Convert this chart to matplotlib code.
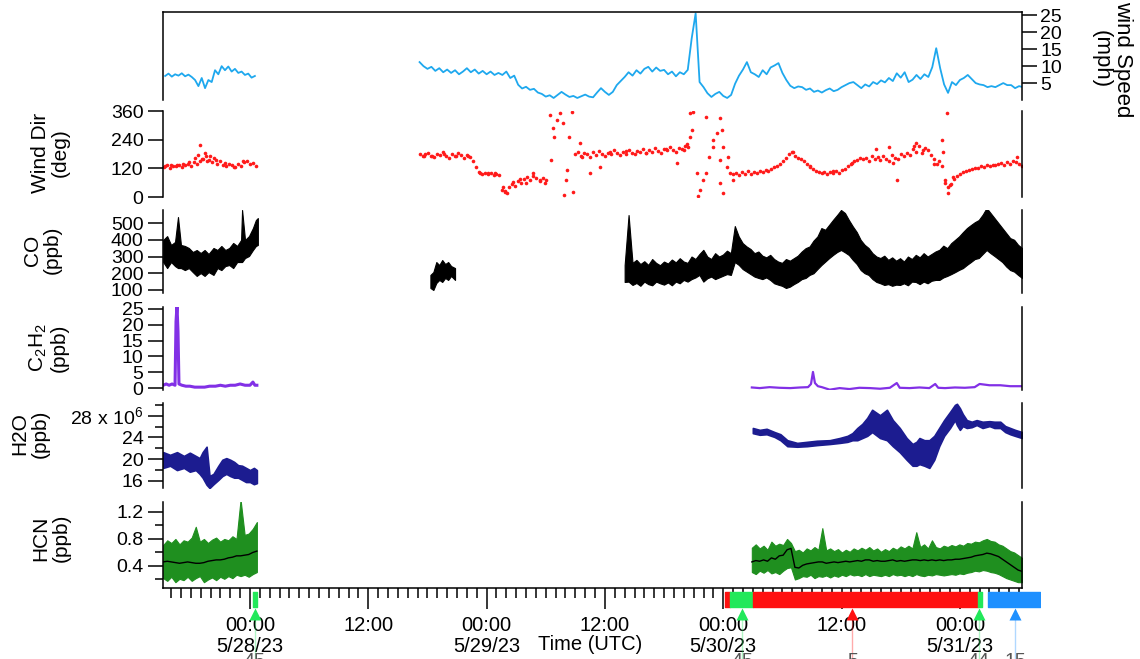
import datetime as dt

import matplotlib.pyplot as plt
import numpy as np
from matplotlib.ticker import FixedLocator, FuncFormatter

plt.rcParams['font.family'] = ['Liberation Sans', 'DejaVu Sans']
plt.rcParams['mathtext.fontset'] = 'custom'
plt.rcParams['mathtext.rm'] = 'Liberation Sans'
plt.rcParams['font.size'] = 14

# time axis: hours after 2023-05-28 00:00 UTC
T0 = dt.datetime(2023, 5, 28)

# wind speed (mph), evenly sampled between the start and end hours
ws_span1 = (-8.6, 0.5)
ws_v1 = [7.1, 7.8, 6.9, 7.6, 7.2, 7.9, 7.0, 7.5, 6.8, 5.9, 4.1, 6.5, 3.5, 5.9, 5.3, 8.8,
         7.6, 10.0, 8.8, 9.9, 8.4, 9.2, 8.0, 8.4, 7.4, 7.8, 6.6, 7.1]
ws_span2 = (17.2, 78.4)
ws_v2 = [11.2, 10.0, 9.2, 9.8, 8.6, 9.4, 8.2, 9.0, 8.0, 8.8,
         7.6, 8.4, 9.4, 8.2, 9.0, 7.8, 8.6, 7.6, 8.4, 7.4,
         8.0, 7.4, 8.4, 6.5, 7.2, 4.5, 3.4, 3.9, 3.0, 3.3,
         2.2, 1.8, 1.0, 1.4, 0.6, 1.5, 2.4, 1.6, 0.9, 1.2,
         0.6, 1.1, 1.6, 1.0, 0.8, 2.2, 3.5, 2.4, 1.5, 2.4,
         4.4, 5.6, 6.8, 8.2, 7.2, 8.8, 7.8, 9.2, 9.8, 8.4,
         9.6, 8.6, 8.9, 7.6, 8.4, 7.0, 8.2, 7.6, 8.9, 18.2,
         25.6, 5.3, 3.8, 2.0, 0.9, 1.8, 2.4, 1.2, 0.6, 1.5,
         4.8, 7.2, 9.0, 11.2, 8.2, 7.6, 6.8, 8.8, 7.6, 9.6,
         10.2, 10.9, 8.0, 5.9, 4.2, 3.5, 4.0, 3.8, 3.0, 3.4,
         2.4, 2.8, 2.2, 2.9, 3.4, 2.6, 3.0, 3.8, 4.4, 5.0,
         5.3, 4.4, 3.5, 4.6, 4.0, 5.3, 4.7, 5.8, 5.2, 6.5,
         5.6, 7.9, 6.6, 8.2, 5.3, 6.0, 7.4, 6.2, 7.6, 6.8,
         9.7, 15.3, 9.4, 4.6, 2.1, 5.3, 4.4, 5.9, 6.5, 7.4,
         6.2, 5.0, 4.6, 4.4, 3.8, 4.1, 3.8, 4.4, 5.0, 4.4,
         4.4, 3.5, 4.1, 3.8]

# wind direction (deg): evenly sampled stretches ...
wd_spans = [(-8.7, 0.6), (17.2, 25.3), (25.6, 30.0), (33.0, 44.4), (49.0, 78.3)]
wd_runs = [
    [125, 132, 122, 130, 128, 136, 124, 133, 140, 130, 145, 138, 150, 160, 172, 155,
     148, 165, 140, 152, 135, 128, 140, 132, 126, 138, 130, 145, 150, 138, 142, 130],
    [182, 170, 178, 186, 172, 168, 180, 175, 188, 172, 165, 178, 170, 184, 176, 162,
     174, 168, 150, 125, 105, 98, 102, 96, 100, 94, 98, 92],
    [30, 22, 40, 55, 48, 65, 60, 75, 82, 70, 88, 78, 65, 80, 72],
    [178, 190, 172, 185, 180, 168, 188, 176, 192, 182, 170, 186, 178, 195, 184, 175,
     190, 182, 198, 186, 180, 194, 188, 200, 185, 196, 190, 205, 192, 186, 200, 195,
     210, 198, 190, 205, 200, 215, 208],
    [95, 102, 92, 105, 98, 108, 96, 104, 100, 110,
     104, 112, 108, 118, 125, 130, 140, 150, 165, 178,
     188, 172, 165, 160, 150, 140, 128, 118, 110, 105,
     100, 106, 98, 104, 100, 108, 102, 112, 118, 128,
     140, 150, 155, 162, 158, 165, 150, 170, 160, 168,
     155, 172, 160, 150, 175, 165, 158, 180, 170, 185,
     175, 200, 190, 215, 185, 205, 195, 175, 160, 140,
     150, 130, 60, 40, 55, 75, 88, 95, 105, 110,
     115, 118, 122, 120, 128, 125, 132, 130, 136, 132,
     138, 142, 135, 148, 140, 152, 145, 138, 130],
]
# ... plus the individual readings, including the scattered ones
wd_t = [-8.6, -8.0, -7.4, -6.8, -6.2, -5.6, -5.3, -5.1, -4.9, -4.6, -4.4, -4.1, -3.4, -2.5, -1.6, -0.7,
        17.6, 18.5, 19.7, 20.9, 22.1, 23.3, 24.1, 24.9, 25.7, 25.9, 26.1, 26.7, 27.4, 28.0, 28.7,
        29.4, 29.9, 30.4, 30.5, 30.7, 30.8, 31.1, 31.4, 31.7, 31.9, 32.1, 32.2, 32.4, 32.7, 32.8,
        33.5, 33.7, 34.5, 35.5, 36.5, 38.1, 40.2, 42.2, 43.3, 44.0, 44.3, 44.6, 44.6, 44.8, 44.9,
        45.3, 45.4, 45.6, 45.9, 46.3, 46.3, 46.6, 47.0, 47.0, 47.4, 47.7, 47.7, 47.7, 47.9, 48.0,
        48.0, 48.4, 48.5, 48.7, 49.0, 55.1, 56.8, 59.1, 61.1, 63.5, 64.8, 65.2, 65.6, 67.3, 67.6,
        68.3, 69.4, 70.2, 70.3, 70.5, 70.7, 70.8, 71.0, 71.3, 77.8]
wd_deg = [128, 132, 135, 140, 145, 165, 175, 218, 160, 185, 150, 170, 155, 142, 125, 150,
          170, 172, 182, 170, 172, 100, 102, 100, 40, 25, 15, 63, 75, 60, 100,
          71, 59, 343, 155, 289, 251, 322, 352, 310, 8, 71, 113, 251, 356, 21,
          226, 167, 100, 126, 190, 192, 185, 200, 142, 198, 220, 352, 251, 280, 356,
          100, 5, 29, 71, 100, 335, 167, 209, 239, 268, 331, 155, 59, 280, 209,
          17, 126, 167, 100, 71, 188, 126, 108, 142, 200, 209, 142, 71, 215, 226,
          197, 140, 239, 188, 71, 352, 17, 50, 84, 167]

# CO (ppb): low / high envelope of the fast trace
co_t1 = [-8.8, -8.4, -8.0, -7.6, -7.3, -7.0, -6.6, -6.2, -5.8, -5.4, -5.0, -4.6, -4.2, -3.7,
         -3.3, -2.9, -2.5, -2.1, -1.7, -1.3, -0.9, -0.8, -0.5, -0.1, 0.3, 0.6, 0.8]
co_hi1 = [399, 422, 369, 387, 536, 369, 363, 351, 327, 339, 321, 339, 315, 351,
          339, 363, 339, 351, 381, 363, 399, 578, 399, 422, 470, 518, 530]
co_lo1 = [267, 231, 267, 243, 231, 231, 219, 231, 207, 184, 201, 184, 207, 190,
          231, 219, 243, 249, 231, 267, 267, 267, 291, 303, 339, 363, 369]
co_t2 = [18.3, 18.6, 18.9, 19.2, 19.5, 19.8, 20.1, 20.4, 20.8]
co_hi2 = [190, 207, 267, 249, 279, 255, 267, 243, 231]
co_lo2 = [112, 100, 142, 160, 148, 172, 160, 184, 160]
co_span3 = (38.0, 78.3)
co_hi3 = [249, 548, 262, 280, 255, 272, 250, 285, 262, 248,
          270, 258, 282, 265, 290, 270, 262, 300, 285, 315,
          340, 300, 285, 320, 300, 312, 335, 320, 482, 420,
          380, 360, 345, 320, 330, 305, 295, 310, 285, 270,
          262, 285, 275, 290, 305, 330, 350, 360, 395, 420,
          470, 460, 490, 520, 548, 578, 560, 518, 480, 446,
          399, 370, 351, 320, 300, 291, 305, 280, 295, 275,
          290, 270, 300, 285, 310, 295, 320, 300, 315, 330,
          340, 365, 350, 380, 400, 420, 446, 470, 488, 505,
          518, 550, 590, 560, 530, 500, 470, 440, 410, 400,
          370, 351]
co_lo3 = [148, 150, 130, 142, 125, 150, 135, 128, 150, 140,
          132, 145, 128, 150, 140, 160, 150, 165, 175, 190,
          150, 170, 180, 165, 175, 185, 195, 190, 267, 250,
          225, 210, 195, 180, 172, 165, 175, 160, 140, 132,
          125, 112, 120, 135, 148, 165, 172, 190, 200, 225,
          249, 270, 291, 310, 327, 339, 325, 309, 280, 255,
          219, 200, 190, 165, 148, 140, 130, 135, 125, 132,
          130, 140, 128, 150, 148, 135, 150, 140, 155, 160,
          160, 175, 184, 195, 207, 220, 231, 250, 267, 285,
          291, 315, 339, 320, 303, 285, 267, 240, 219, 210,
          190, 172]

# C2H2 (ppb)
c2_t1 = [-8.8, -8.5, -8.2, -7.9, -7.6, -7.5, -7.4, -7.3, -7.2, -6.9, -6.5, -6.1, -5.6, -5.1,
         -4.6, -4.1, -3.5, -3.0, -2.5, -2.0, -1.5, -1.0, -0.5, 0.0, 0.3, 0.5, 0.7]
c2_v1 = [0.9, 1.3, 0.9, 1.3, 0.9, 21.0, 26.0, 18.0, 1.3, 0.9, 0.6, 0.6, 0.3, 0.3,
         0.3, 0.6, 0.6, 0.9, 0.6, 0.9, 0.9, 1.3, 0.9, 0.9, 1.9, 0.9, 0.9]
c2_t2 = [50.9, 51.7, 52.7, 53.7, 54.8, 55.8, 56.6, 56.9, 57.1, 57.3, 57.6, 58.0, 58.8, 59.8,
         60.8, 61.8, 62.9, 63.9, 64.9, 65.6, 65.9, 66.9, 67.9, 68.9, 69.5, 69.8, 70.5, 71.5,
         72.5, 73.5, 74.0, 75.0, 76.1, 77.1, 78.3]
c2_v2 = [0.2, 0.0, 0.3, 0.1, 0.0, 0.2, 0.3, 1.3, 5.1, 1.6, 0.6, 0.3, -0.5, 0.0,
         -0.3, 0.1, 0.0, -0.2, 0.1, 1.6, 0.1, 0.0, 0.2, 0.0, 1.3, 0.1, 0.0, 0.2,
         0.1, 0.3, 1.3, 0.9, 0.9, 0.6, 0.6]

# H2O (10^6 ppb)
h2o_t1 = [-8.8, -8.1, -7.4, -6.7, -6.1, -5.5, -5.1, -4.8, -4.4, -4.1, -3.7, -3.2, -2.8, -2.4,
          -2.0, -1.6, -1.2, -0.8, -0.4, 0.0, 0.4, 0.7]
h2o_hi1 = [21.3, 20.8, 21.3, 20.6, 21.2, 20.6, 20.2, 21.3, 22.3, 16.9, 17.3, 18.8, 19.9, 20.2,
           19.9, 19.5, 18.9, 18.8, 18.4, 18.0, 18.4, 18.0]
h2o_lo1 = [18.4, 18.8, 18.0, 18.4, 17.7, 18.0, 17.3, 16.6, 15.3, 14.7, 15.4, 16.2, 16.9, 17.3,
           16.9, 16.6, 16.6, 16.2, 15.8, 15.8, 15.4, 15.6]
h2o_t2 = [51.0, 51.7, 52.4, 53.2, 53.8, 54.5, 55.5, 56.5, 57.5, 58.8, 59.8, 60.6, 61.1, 61.6,
          62.1, 62.6, 63.1, 63.9, 64.6, 65.2, 65.9, 66.6, 67.2, 67.6, 67.9, 68.4, 68.9, 69.4,
          69.9, 70.4, 71.0, 71.5, 71.7, 72.0, 72.3, 72.7, 73.2, 73.7, 74.3, 75.0, 75.5, 76.1,
          76.6, 77.1, 77.6, 78.3]
h2o_hi2 = [25.75, 25.4, 25.6, 25.0, 24.6, 23.5, 23.0, 23.2, 23.4, 23.5, 23.9, 24.3, 24.8, 25.75,
           26.5, 27.6, 29.1, 28.1, 29.1, 27.2, 25.75, 23.9, 22.8, 23.2, 23.9, 23.5, 23.5, 24.3,
           25.75, 27.2, 28.7, 30.0, 30.2, 29.4, 28.3, 27.2, 26.9, 27.2, 26.9, 27.0, 26.9, 26.9,
           26.1, 25.75, 25.4, 25.0]
h2o_lo2 = [24.8, 24.5, 24.6, 24.1, 23.5, 22.4, 22.3, 22.4, 22.6, 22.8, 23.0, 23.2, 23.5, 23.5,
           23.9, 24.3, 25.0, 23.9, 23.5, 22.4, 21.3, 19.9, 18.8, 18.8, 19.1, 18.8, 18.4, 19.9,
           22.4, 24.3, 25.75, 27.2, 26.3, 25.4, 26.1, 25.75, 25.9, 26.3, 25.75, 26.1, 25.75, 25.75,
           25.0, 24.6, 24.3, 23.9]

# HCN (ppb): spread of the fast data and its running mean
hcn_span1 = (-8.8, 0.7)
hcn_hi1 = [0.71, 0.78, 0.74, 0.80, 0.72, 0.78, 0.76, 0.82, 0.98, 0.76, 0.80, 0.74, 0.79, 0.82,
           0.76, 0.80, 0.78, 0.84, 0.80, 1.38, 0.86, 0.88, 0.95, 1.05]
hcn_lo1 = [0.22, 0.18, 0.24, 0.16, 0.21, 0.19, 0.24, 0.18, 0.22, 0.25, 0.16, 0.20, 0.23, 0.19,
           0.24, 0.21, 0.25, 0.22, 0.27, 0.25, 0.27, 0.24, 0.28, 0.31]
hcn_m1 = [0.46, 0.47, 0.46, 0.45, 0.44, 0.45, 0.46, 0.45, 0.44, 0.44, 0.45, 0.47, 0.48, 0.49,
          0.49, 0.50, 0.52, 0.53, 0.55, 0.55, 0.56, 0.57, 0.60, 0.62]
hcn_span2 = (50.9, 78.3)
hcn_hi2 = [0.67, 0.72, 0.66, 0.70, 0.64, 0.76, 0.70, 0.73, 0.71, 0.80,
           0.74, 0.62, 0.64, 0.60, 0.66, 0.63, 0.68, 0.64, 0.96, 0.63,
           0.66, 0.62, 0.65, 0.60, 0.64, 0.61, 0.66, 0.63, 0.67, 0.64,
           0.68, 0.63, 0.66, 0.61, 0.65, 0.62, 0.67, 0.64, 0.69, 0.66,
           0.70, 0.66, 0.90, 0.68, 0.72, 0.66, 0.78, 0.68, 0.66, 0.70,
           0.68, 0.71, 0.69, 0.72, 0.70, 0.74, 0.73, 0.76, 0.75, 0.78,
           0.80, 0.77, 0.76, 0.72, 0.70, 0.66, 0.62, 0.60, 0.56, 0.52]
hcn_lo2 = [0.31, 0.28, 0.33, 0.30, 0.34, 0.29, 0.31, 0.28, 0.33, 0.37,
           0.38, 0.20, 0.22, 0.25, 0.24, 0.27, 0.22, 0.25, 0.24, 0.26,
           0.23, 0.26, 0.24, 0.27, 0.25, 0.28, 0.26, 0.27, 0.25, 0.28,
           0.25, 0.27, 0.26, 0.25, 0.27, 0.25, 0.28, 0.26, 0.27, 0.25,
           0.27, 0.25, 0.28, 0.26, 0.25, 0.27, 0.26, 0.28, 0.27, 0.26,
           0.27, 0.28, 0.27, 0.29, 0.28, 0.30, 0.31, 0.33, 0.32, 0.34,
           0.33, 0.31, 0.30, 0.28, 0.25, 0.22, 0.20, 0.18, 0.16, 0.16]
hcn_m2 = [0.46, 0.48, 0.47, 0.49, 0.47, 0.52, 0.50, 0.55, 0.56, 0.64,
          0.66, 0.38, 0.37, 0.41, 0.43, 0.44, 0.45, 0.46, 0.46, 0.44,
          0.45, 0.46, 0.45, 0.46, 0.47, 0.46, 0.47, 0.48, 0.47, 0.49,
          0.49, 0.47, 0.48, 0.47, 0.47, 0.48, 0.49, 0.47, 0.48, 0.47,
          0.48, 0.49, 0.49, 0.48, 0.49, 0.48, 0.49, 0.48, 0.49, 0.48,
          0.49, 0.49, 0.50, 0.50, 0.51, 0.52, 0.53, 0.55, 0.56, 0.57,
          0.59, 0.58, 0.56, 0.54, 0.50, 0.46, 0.42, 0.38, 0.34, 0.32]

# sampling flags under the time axis
flag_start = [0.3, 48.2, 48.7, 51.0, 73.8, 74.9]
flag_end = [0.7, 48.7, 51.0, 73.8, 74.2, 80.1]
flag_color = ['#22e85a', '#ff1010', '#22e85a', '#ff1010', '#22e85a', '#1e90ff']
mark_t = [0.5, 49.9, 61.1, 73.9, 77.6]
mark_color = ['#22e85a', '#22e85a', '#ff1010', '#22e85a', '#1e90ff']
mark_text = ['45', '45', '5', '44', '15']

W, H = 1140, 659
LEFT, RIGHT = 163, 1022
XMIN, XMAX = -8.82, 78.3


def hours(span, values):
    return np.linspace(span[0], span[1], len(values))


def box(top, bottom, left=LEFT, right=RIGHT):
    return [left / W, 1 - bottom / H, (right - left) / W, (bottom - top) / H]


def style(ax, top=False, bottom=False):
    for side in ax.spines:
        ax.spines[side].set_linewidth(1.1)
    ax.spines['top'].set_visible(top)
    ax.spines['bottom'].set_visible(bottom)
    ax.tick_params(axis='y', which='major', direction='out', length=11, width=1.1, pad=3, labelsize=14)
    ax.tick_params(axis='y', which='minor', direction='out', length=6, width=1.1)
    ax.tick_params(axis='x', which='both', bottom=bottom, labelbottom=bottom)
    ax.patch.set_alpha(0)


def time_label(h, pos):
    t = T0 + dt.timedelta(hours=float(h))
    if t.hour == 0:
        return f"{t:%H:%M}\n{t.month}/{t.day}/{t:%y}"
    return f"{t:%H:%M}"


fig = plt.figure(figsize=(W / 100, H / 100), dpi=100)

ax_ws = fig.add_axes(box(12, 100))
ax_wd = fig.add_axes(box(111, 197), sharex=ax_ws)
ax_co = fig.add_axes(box(210, 293), sharex=ax_ws)
ax_c2 = fig.add_axes(box(307, 390), sharex=ax_ws)
ax_h2o = fig.add_axes(box(403, 488), sharex=ax_ws)
ax_hcn = fig.add_axes(box(502, 588), sharex=ax_ws)

# wind speed, ticks on the right
for span, v in ((ws_span1, ws_v1), (ws_span2, ws_v2)):
    ax_ws.plot(hours(span, v), v, color='#1ea8ee', lw=1.3)
ax_ws.set_ylim(0, 26)
ax_ws.yaxis.tick_right()
ax_ws.yaxis.set_major_locator(FixedLocator([5, 10, 15, 20, 25]))
style(ax_ws, top=True)
ax_ws.tick_params(axis='y', labelsize=14, pad=2)
fig.text(1112 / W, 1 - 59 / H, 'wind Speed\n(mph)', rotation=270, ha='center', va='center',
         multialignment='center', fontsize=16, linespacing=1.05)

# wind direction
for span, v in zip(wd_spans, wd_runs):
    ax_wd.plot(hours(span, v), v, ls='none', marker='o', ms=2.6, mec='none', color='#ff1a1a')
ax_wd.plot(wd_t, wd_deg, ls='none', marker='o', ms=2.6, mec='none', color='#ff1a1a')
ax_wd.set_ylim(0, 360)
ax_wd.yaxis.set_major_locator(FixedLocator([0, 120, 240, 360]))
style(ax_wd)

# CO
ax_co.fill_between(co_t1, co_lo1, co_hi1, color='black', lw=0.8)
ax_co.fill_between(co_t2, co_lo2, co_hi2, color='black', lw=0.8)
ax_co.fill_between(hours(co_span3, co_hi3), co_lo3, co_hi3, color='black', lw=0.8)
ax_co.set_ylim(82, 578)
ax_co.yaxis.set_major_locator(FixedLocator([100, 200, 300, 400, 500]))
style(ax_co)

# C2H2
ax_c2.plot(c2_t1, c2_v1, color='#8230e6', lw=2.2)
ax_c2.plot(c2_t2, c2_v2, color='#8230e6', lw=1.6)
ax_c2.set_ylim(-0.6, 25.6)
ax_c2.yaxis.set_major_locator(FixedLocator([0, 5, 10, 15, 20, 25]))
style(ax_c2)

# H2O
for t, lo, hi in ((h2o_t1, h2o_lo1, h2o_hi1), (h2o_t2, h2o_lo2, h2o_hi2)):
    ax_h2o.fill_between(t, lo, hi, color='#1c1c90', lw=1.2)
ax_h2o.set_ylim(14.7, 30.35)
ax_h2o.yaxis.set_major_locator(FixedLocator([16, 20, 24, 28]))
ax_h2o.yaxis.set_minor_locator(FixedLocator([18, 22, 26, 30]))
ax_h2o.yaxis.set_major_formatter(FuncFormatter(
    lambda v, p: r'28 x 10$^{6}$' if round(v) == 28 else f'{v:.0f}'))
style(ax_h2o)

# HCN
for span, lo, hi, m in ((hcn_span1, hcn_lo1, hcn_hi1, hcn_m1), (hcn_span2, hcn_lo2, hcn_hi2, hcn_m2)):
    t = hours(span, m)
    ax_hcn.fill_between(t, lo, hi, color='#1f8f1f', lw=0.8)
    ax_hcn.plot(t, m, color='black', lw=1.0)
ax_hcn.set_ylim(0.074, 1.347)
ax_hcn.yaxis.set_major_locator(FixedLocator([0.4, 0.8, 1.2]))
ax_hcn.yaxis.set_minor_locator(FixedLocator([0.2, 0.6, 1.0]))
ax_hcn.yaxis.set_major_formatter(FuncFormatter(lambda v, p: f'{v:.1f}'))
style(ax_hcn, bottom=True)

# shared time axis
ax_hcn.set_xlim(XMIN, XMAX)
ax_hcn.xaxis.set_major_locator(FixedLocator(np.arange(0, 79, 12)))
ax_hcn.xaxis.set_minor_locator(FixedLocator(np.arange(-8, 79, 1)))
ax_hcn.xaxis.set_major_formatter(FuncFormatter(time_label))
ax_hcn.tick_params(axis='x', which='major', direction='out', length=15, width=1.1, pad=5, labelsize=14.5)
ax_hcn.tick_params(axis='x', which='minor', direction='out', length=7, width=1.1)
for lab in ax_hcn.get_xticklabels():
    lab.set_linespacing(1.15)

# panel labels
labels = [('Wind Dir\n(deg)', 50, 153), ('CO\n(ppb)', 42, 250),
          ('C$_\\mathregular{2}$H$_\\mathregular{2}$\n(ppb)', 48, 348),
          ('H2O\n(ppb)', 30, 434), ('HCN\n(ppb)', 51, 538)]
for txt, xp, yp in labels:
    fig.text(xp / W, 1 - yp / H, txt, rotation=90, ha='center', va='center',
             multialignment='center', fontsize=15, linespacing=1.05)

fig.text(590 / W, 1 - 645 / H, 'Time (UTC)', ha='center', va='center', fontsize=14.5)

# flag strip below the time axis
ax_flag = fig.add_axes(box(587, 659, right=1040))
ax_flag.set_xlim(XMIN, XMIN + (XMAX - XMIN) * (1040 - LEFT) / (RIGHT - LEFT))
ax_flag.set_ylim(72, 0)
ax_flag.axis('off')
for s, e, c in zip(flag_start, flag_end, flag_color):
    ax_flag.broken_barh([(s, e - s)], (5, 15), color=c)
for t, c, txt in zip(mark_t, mark_color, mark_text):
    ax_flag.plot([t, t], [30, 72], color=c, lw=1.0, alpha=0.35)
    ax_flag.plot([t], [27], marker='^', ms=8, color=c, mec='none')
    ax_flag.text(t, 66, txt, ha='center', va='top', fontsize=14, color='#555555', clip_on=False)

fig.savefig('out.png', dpi=100)
